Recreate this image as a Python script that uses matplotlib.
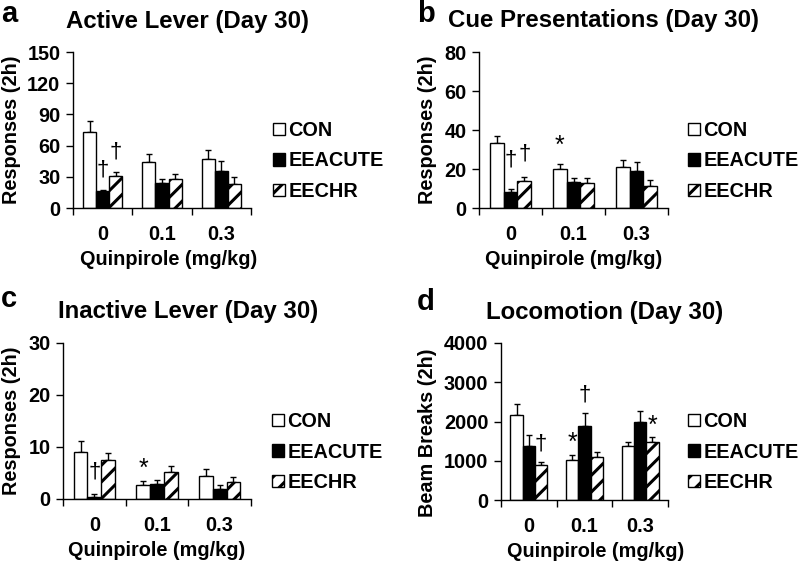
import matplotlib
matplotlib.use("Agg")
import matplotlib.pyplot as plt
from matplotlib.patches import Patch
import numpy as np

plt.rcParams['font.family'] = ['Liberation Sans', 'DejaVu Sans']
plt.rcParams['font.weight'] = 'bold'
plt.rcParams['hatch.linewidth'] = 2.2
plt.rcParams['hatch.color'] = 'black'

doses = ['0', '0.1', '0.3']
groups = ['CON', 'EEACUTE', 'EECHR']

# Panel a: Active Lever
active_mean = {'CON': [72.8, 44.2, 47.0], 'EEACUTE': [16.3, 23.7, 36.0], 'EECHR': [30.4, 27.6, 23.4]}
active_err = {'CON': [10.5, 7.4, 9.0], 'EEACUTE': [1.0, 4.2, 9.5], 'EECHR': [4.2, 5.1, 6.1]}
# Panel b: Cue Presentations
cue_mean = {'CON': [33.3, 20.0, 20.9], 'EEACUTE': [8.2, 13.2, 19.1], 'EECHR': [14.0, 13.0, 11.3]}
cue_err = {'CON': [3.5, 2.6, 3.5], 'EEACUTE': [1.4, 2.2, 4.5], 'EECHR': [2.0, 2.4, 2.9]}
# Panel c: Inactive Lever
inactive_mean = {'CON': [9.1, 2.7, 4.5], 'EEACUTE': [0.45, 2.9, 2.0], 'EECHR': [7.5, 5.1, 3.3]}
inactive_err = {'CON': [2.0, 0.8, 1.2], 'EEACUTE': [0.5, 0.7, 0.7], 'EECHR': [1.4, 1.2, 0.9]}
# Panel d: Locomotion
loco_mean = {'CON': [2157, 1019, 1376], 'EEACUTE': [1384, 1894, 1979], 'EECHR': [900, 1104, 1469]}
loco_err = {'CON': [280, 127, 110], 'EEACUTE': [281, 314, 289], 'EECHR': [77, 110, 145]}

# significance marks: (symbol, dose index, group index, y value)
active_marks = [('†', 0, 1, 36.5), ('†', 0, 2, 53.8)]
cue_marks = [('†', 0, 1, 24.8), ('†', 0, 2, 27.9), ('*', 1, 0, 35.9)]
inactive_marks = [('†', 0, 1, 5.1), ('*', 1, 0, 7.4)]
loco_marks = [('†', 0, 2, 1430), ('*', 1, 0, 1656), ('†', 1, 1, 2665), ('*', 2, 2, 2110)]

panels = [
    dict(letter='a', title='Active Lever (Day 30)', ylabel='Responses (2h)',
         mean=active_mean, err=active_err, marks=active_marks, yticks=[0, 30, 60, 90, 120, 150],
         rect=[0.09125, 0.62989, 0.2225, 0.27758], letter_xy=(1, 22), title_xy=(188, 28),
         ylab=(-0.292, 0.5), xlab=(0.537, -0.27), leg=(273, 161)),
    dict(letter='b', title='Cue Presentations (Day 30)', ylabel='Responses (2h)',
         mean=cue_mean, err=cue_err, marks=cue_marks, yticks=[0, 20, 40, 60, 80],
         rect=[0.59875, 0.62989, 0.23625, 0.27758], letter_xy=(417, 22), title_xy=(604, 27),
         ylab=(-0.222, 0.5), xlab=(0.5, -0.27), leg=(688, 161)),
    dict(letter='c', title='Inactive Lever (Day 30)', ylabel='Responses (2h)',
         mean=inactive_mean, err=inactive_err, marks=inactive_marks, yticks=[0, 10, 20, 30],
         rect=[0.07875, 0.1121, 0.235, 0.27758], letter_xy=(1, 307), title_xy=(188, 318),
         ylab=(-0.223, 0.5), xlab=(0.5, -0.27), leg=(272, 452)),
    dict(letter='d', title='Locomotion (Day 30)', ylabel='Beam Breaks (2h)',
         mean=loco_mean, err=loco_err, marks=loco_marks, yticks=[0, 1000, 2000, 3000, 4000],
         rect=[0.62625, 0.11032, 0.20875, 0.27936], letter_xy=(417, 310), title_xy=(605, 319),
         ylab=(-0.383, 0.43), xlab=(0.568, -0.27), leg=(688, 452)),
]

W, H = 800, 562
fig = plt.figure(figsize=(8, 5.62), dpi=100)

bw = 0.22
offsets = [-bw, 0.0, bw]
styles = [dict(facecolor='white', hatch=None), dict(facecolor='black', hatch=None),
          dict(facecolor='white', hatch='//')]

for p in panels:
    ax = fig.add_axes(p['rect'])
    x = np.arange(len(doses)) + 0.5
    for gi, g in enumerate(groups):
        st = styles[gi]
        ax.bar(x + offsets[gi], p['mean'][g], width=bw, facecolor=st['facecolor'],
               edgecolor='black', linewidth=1.0, hatch=st['hatch'], zorder=2)
        ax.errorbar(x + offsets[gi], p['mean'][g], yerr=[np.zeros(3), p['err'][g]],
                    fmt='none', ecolor='black', elinewidth=1.0, capsize=2.5, capthick=1.0, zorder=1)
    for sym, di, gi, yv in p['marks']:
        if sym == '*':
            ax.annotate(sym, (di + 0.5 + offsets[gi], yv), xytext=(0, -6), textcoords='offset points',
                        ha='center', va='center', fontsize=18, fontweight='normal',
                        annotation_clip=False)
        else:
            ax.annotate(sym, (di + 0.5 + offsets[gi], yv), xytext=(0, 0), textcoords='offset points',
                        ha='center', va='center', fontsize=16, fontweight='normal',
                        annotation_clip=False)
    ax.set_xlim(0, 3)
    ax.set_ylim(0, p['yticks'][-1])
    ax.set_yticks(p['yticks'])
    ax.set_xticks([0, 1, 2, 3])
    ax.set_xticklabels([])
    ax.set_xticks(x, minor=True)
    ax.set_xticklabels(doses, minor=True)
    ax.tick_params(axis='x', which='major', direction='out', length=5, width=1)
    ax.tick_params(axis='x', which='minor', length=0, pad=12, labelsize=14.3)
    ax.tick_params(axis='y', direction='out', length=5, width=1, pad=4, labelsize=14.3)
    for s in ['top', 'right']:
        ax.spines[s].set_visible(False)
    for s in ['left', 'bottom']:
        ax.spines[s].set_linewidth(1.0)
    ax.set_ylabel(p['ylabel'], fontsize=14.3, fontweight='bold')
    ax.yaxis.set_label_coords(*p['ylab'])
    ax.set_xlabel('Quinpirole (mg/kg)', fontsize=14.3, fontweight='bold')
    ax.xaxis.set_label_coords(*p['xlab'])
    handles = [Patch(facecolor=styles[i]['facecolor'], edgecolor='black', linewidth=1.0,
                     hatch=styles[i]['hatch'], label=groups[i]) for i in range(3)]
    ax.legend(handles=handles, loc='center left',
              bbox_to_anchor=(p['leg'][0] / W, 1 - p['leg'][1] / H), bbox_transform=fig.transFigure,
              frameon=False, handlelength=0.62, handleheight=0.62,
              handletextpad=0.15, labelspacing=0.58, borderpad=0, borderaxespad=0,
              prop=dict(weight='bold', size=14.3))
    fig.text(p['letter_xy'][0] / W, 1 - p['letter_xy'][1] / H, p['letter'], fontsize=21,
             fontweight='bold', ha='left', va='baseline')
    fig.text(p['title_xy'][0] / W, 1 - p['title_xy'][1] / H, p['title'], fontsize=17.3,
             fontweight='bold', ha='center', va='baseline')

fig.savefig('out.png', dpi=100)
